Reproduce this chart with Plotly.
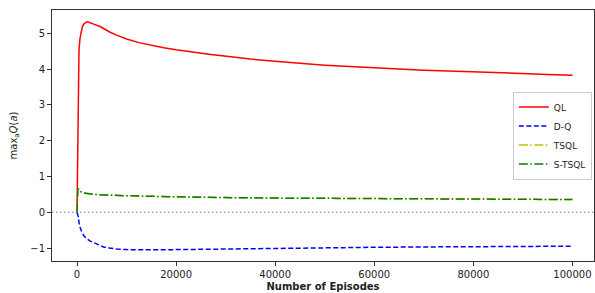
import plotly.graph_objects as go

# QL
ql_x = [0, 100, 200, 300, 400, 600, 800, 1000, 1300, 1700, 2150, 2700, 3500, 4650, 5500,
        6670, 8000, 10000, 12500, 15000, 17500, 20000, 23500, 27000, 30200, 35000, 40000,
        45000, 50000, 55000, 60000, 65000, 70000, 75000, 80000, 85000, 90000, 95000, 100000]
ql_y = [0.0, 1.8, 3.4, 4.2, 4.55, 4.85, 5.02, 5.14, 5.25, 5.30, 5.32, 5.30, 5.25, 5.19, 5.12,
        5.03, 4.95, 4.84, 4.74, 4.66, 4.60, 4.54, 4.47, 4.41, 4.36, 4.28, 4.22,
        4.16, 4.11, 4.07, 4.03, 4.00, 3.97, 3.95, 3.92, 3.90, 3.88, 3.85, 3.83]

# D-Q
dq_x = [0, 100, 270, 470, 700, 940, 1400, 1950, 2600, 3300, 4300, 5320, 6500, 8000, 10000,
        12000, 15000, 20000, 25000, 30000, 35000, 40000, 50000, 60000, 70000, 80000, 90000, 100000]
dq_y = [0.0, -0.06, -0.13, -0.36, -0.47, -0.55, -0.66, -0.74, -0.80, -0.85, -0.92, -0.97, -1.00,
        -1.03, -1.045, -1.05, -1.05, -1.045, -1.035, -1.02, -1.01, -1.00, -0.99, -0.98, -0.97,
        -0.96, -0.955, -0.95]

# TSQL
tsql_x = [0, 50, 150, 270, 500, 800, 1280, 2000, 3300, 5000, 7000, 10000, 15000, 20000, 25000,
          30000, 40000, 50000, 60000, 70000, 80000, 90000, 100000]
tsql_y = [0.0, 0.3, 0.6, 0.66, 0.61, 0.57, 0.54, 0.52, 0.50, 0.485, 0.47, 0.46, 0.445, 0.43,
          0.42, 0.41, 0.395, 0.385, 0.375, 0.37, 0.365, 0.36, 0.355]

# S-TSQL
stsql_x = [0, 50, 150, 270, 500, 800, 1280, 2000, 3300, 5000, 7000, 10000, 15000, 20000, 25000,
           30000, 40000, 50000, 60000, 70000, 80000, 90000, 100000]
stsql_y = [0.0, 0.3, 0.6, 0.66, 0.61, 0.57, 0.54, 0.52, 0.50, 0.485, 0.47, 0.46, 0.445, 0.43,
           0.42, 0.41, 0.395, 0.385, 0.375, 0.37, 0.365, 0.36, 0.355]

x_ticks = [0, 20000, 40000, 60000, 80000, 100000]
y_ticks = [-1, 0, 1, 2, 3, 4, 5]

FONT = "DejaVu Sans"

fig = go.Figure()
fig.add_trace(go.Scatter(x=ql_x, y=ql_y, mode="lines", name="QL",
                         line=dict(color="#ff0000", width=1.5)))
fig.add_trace(go.Scatter(x=dq_x, y=dq_y, mode="lines", name="D-Q",
                         line=dict(color="#0000ff", width=1.5, dash="5px,2.5px")))
fig.add_trace(go.Scatter(x=tsql_x, y=tsql_y, mode="lines", name="TSQL",
                         line=dict(color="#bfbf00", width=1.5, dash="9px,2.5px,1.5px,2.5px")))
fig.add_trace(go.Scatter(x=stsql_x, y=stsql_y, mode="lines", name="S-TSQL",
                         line=dict(color="#008000", width=1.5, dash="9px,2.5px,1.5px,2.5px")))

fig.add_hline(y=0, line=dict(color="gray", width=1.2, dash="1.5px,2.5px"), layer="below")

fig.update_layout(
    width=595, height=293,
    margin=dict(l=52, r=1, t=10, b=32, autoexpand=False),
    paper_bgcolor="white", plot_bgcolor="white",
    font=dict(family=FONT, size=10, color="#222222"),
    showlegend=True,
    legend=dict(x=0.996, y=0.5, xanchor="right", yanchor="middle",
                bordercolor="#cccccc", borderwidth=1, bgcolor="white",
                font=dict(family=FONT, size=9, color="#222222"),
                tracegroupgap=0, itemwidth=30),
)
fig.update_xaxes(
    range=[-5050, 104350], tickvals=x_ticks, ticktext=[str(v) for v in x_ticks],
    showgrid=False, zeroline=False, showline=True, mirror=True, automargin=False,
    linecolor="#333333", linewidth=1, ticks="outside", ticklen=4, tickcolor="#333333",
    title=dict(text="<b>Number of Episodes</b>", font=dict(family=FONT, size=10), standoff=3),
)
fig.update_yaxes(
    range=[-1.363, 5.652], tickvals=y_ticks, ticktext=["\u22121", "0", "1", "2", "3", "4", "5"],
    showgrid=False, zeroline=False, showline=True, mirror=True, automargin=False,
    linecolor="#333333", linewidth=1, ticks="outside", ticklen=4, tickcolor="#333333",
    title=dict(text="max<sub>a</sub><i>Q</i>(<i>a</i>)", font=dict(family=FONT, size=10), standoff=10),
)

fig.write_html("out.html", config={"displayModeBar": False},
               post_script="document.body.style.margin='0';document.body.style.overflow='hidden';")
